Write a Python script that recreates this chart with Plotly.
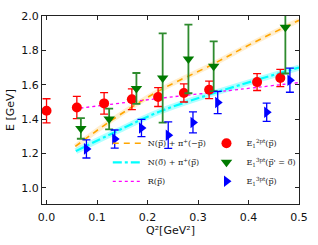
import plotly.graph_objects as go

# --- data ---
q2_2pt = [0.0, 0.060, 0.114, 0.169, 0.221, 0.272, 0.322, 0.417, 0.463]
e_2pt = [1.448, 1.467, 1.491, 1.515, 1.528, 1.552, 1.570, 1.615, 1.639]
err_2pt = [0.070, 0.065, 0.063, 0.060, 0.055, 0.053, 0.051, 0.049, 0.050]

q2_3pt0 = [0.068, 0.124, 0.178, 0.230, 0.281, 0.331, 0.473]
e_3pt0 = [1.345, 1.400, 1.578, 1.639, 1.750, 1.707, 1.935]
err_3pt0 = [0.060, 0.060, 0.090, 0.260, 0.200, 0.145, 0.270]

q2_3pt = [0.079, 0.135, 0.188, 0.241, 0.290, 0.339, 0.436, 0.482]
e_3pt = [1.226, 1.283, 1.348, 1.306, 1.380, 1.496, 1.439, 1.626]
err_3pt = [0.053, 0.053, 0.050, 0.077, 0.061, 0.065, 0.053, 0.070]

q2_npi = [0.057, 0.127, 0.223, 0.328, 0.410, 0.500]
e_npi = [1.240, 1.389, 1.565, 1.717, 1.845, 1.975]

q2_n0pi = [0.058, 0.140, 0.223, 0.337, 0.500]
e_n0pi = [1.213, 1.330, 1.442, 1.556, 1.700]

q2_r = [0.055, 0.223, 0.350, 0.500]
e_r = [1.459, 1.520, 1.562, 1.612]

xticks = [0.0, 0.1, 0.2, 0.3, 0.4, 0.5]
yticks = [1.0, 1.2, 1.4, 1.6, 1.8, 2.0]

ARR = '<span style="font-family:DejaVu Sans">\u20d7</span>'
lab_npi = "N(p" + ARR + ") + \u03c0<sup>+</sup>(\u2212p" + ARR + ")"
lab_n0pi = "N(0" + ARR + ") + \u03c0<sup>+</sup>(p" + ARR + ")"
lab_r = "R(p" + ARR + ")"
lab_2pt = "E<sub>1</sub><sup>2pt</sup>(p" + ARR + ")"
lab_3pt0 = "E<sub>1</sub><sup>3pt</sup>(p" + ARR + "' = 0" + ARR + ")"
lab_3pt = "E<sub>1</sub><sup>3pt</sup>(p" + ARR + ")"

fig = go.Figure()

# bands behind lines
fig.add_trace(go.Scatter(x=q2_npi, y=e_npi, mode="lines", line=dict(color="rgba(255,165,0,0.18)", width=5, shape="spline"),
                         showlegend=False, hoverinfo="skip"))
fig.add_trace(go.Scatter(x=q2_n0pi, y=e_n0pi, mode="lines", line=dict(color="rgba(0,255,255,0.3)", width=6, shape="spline"),
                         showlegend=False, hoverinfo="skip"))

fig.add_trace(go.Scatter(x=q2_npi, y=e_npi, mode="lines", name=lab_npi, legend="legend",
                         line=dict(color="orange", width=1.6, dash="6px,5px", shape="spline")))
fig.add_trace(go.Scatter(x=q2_n0pi, y=e_n0pi, mode="lines", name=lab_n0pi, legend="legend",
                         line=dict(color="cyan", width=2.2, dash="dashdot", shape="spline")))
fig.add_trace(go.Scatter(x=q2_r, y=e_r, mode="lines", name=lab_r, legend="legend",
                         line=dict(color="magenta", width=1.3, dash="dot", shape="spline")))

fig.add_trace(go.Scatter(x=q2_2pt, y=e_2pt, mode="markers", name=lab_2pt, legend="legend2",
                         marker=dict(symbol="circle", size=10, color="red"),
                         error_y=dict(type="data", array=err_2pt, color="red", thickness=1.3, width=4)))
fig.add_trace(go.Scatter(x=q2_3pt0, y=e_3pt0, mode="markers", name=lab_3pt0, legend="legend2",
                         marker=dict(symbol="triangle-down", size=10, color="#007a00"),
                         error_y=dict(type="data", array=err_3pt0, color="#2e8b2e", thickness=1.8, width=4)))
fig.add_trace(go.Scatter(x=q2_3pt, y=e_3pt, mode="markers", name=lab_3pt, legend="legend2",
                         marker=dict(symbol="triangle-right", size=10, color="blue"),
                         error_y=dict(type="data", array=err_3pt, color="blue", thickness=1.3, width=4)))

axis_common = dict(showline=True, linecolor="#222", linewidth=1, mirror="allticks", ticks="inside",
                   ticklen=4, tickcolor="#222", showgrid=False, zeroline=False,
                   tickfont=dict(family="DejaVu Sans", size=11, color="#111"))

legfont = dict(family="DejaVu Serif", size=8, color="#222")

fig.update_layout(
    width=318, height=245,
    margin=dict(l=39, r=14, t=10, b=37),
    paper_bgcolor="white", plot_bgcolor="white",
    xaxis=dict(range=[-0.009, 0.5], tickvals=xticks, ticktext=[f"{v:.1f}" for v in xticks],
               ticklabelstandoff=3,
               title=dict(text="Q\u00b2[GeV\u00b2]", font=dict(family="DejaVu Sans", size=11, color="#111"), standoff=3),
               **axis_common),
    yaxis=dict(range=[0.905, 2.0], tickvals=yticks, ticktext=[f"{v:.1f}" for v in yticks],
               title=dict(text="E [GeV]", font=dict(family="DejaVu Sans", size=11, color="#111"), standoff=4),
               **axis_common),
    legend=dict(x=0.256, y=0.40, xanchor="left", yanchor="top", bgcolor="rgba(0,0,0,0)",
                font=legfont, itemwidth=30, tracegroupgap=0),
    legend2=dict(x=0.64, y=0.40, xanchor="left", yanchor="top", bgcolor="rgba(0,0,0,0)",
                 font=legfont, itemwidth=30, tracegroupgap=0),
)

fig.write_html("out.html", config={"displayModeBar": False},
               post_script="document.body.style.margin='0';document.body.style.overflow='hidden';")
